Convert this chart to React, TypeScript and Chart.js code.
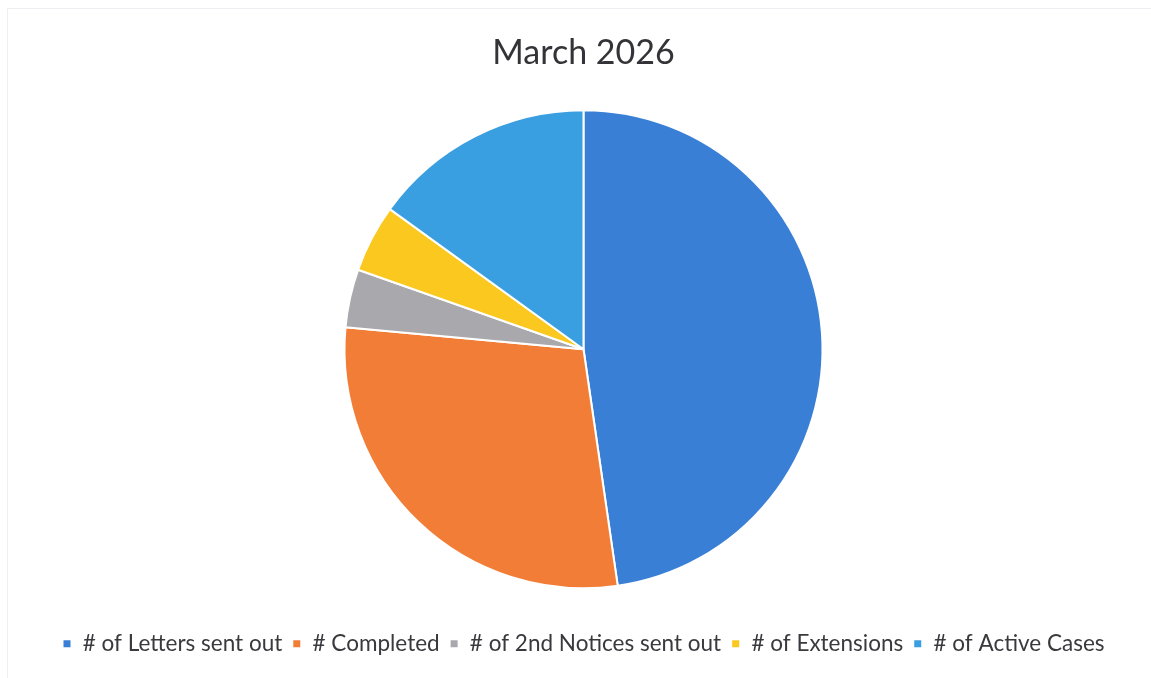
import React, { useEffect, useRef } from "react";
import { Chart, registerables } from "chart.js";

Chart.register(...registerables);

const categories = [
  "# of Letters sent out",
  "# Completed",
  "# of 2nd Notices sent out",
  "# of Extensions",
  "# of Active Cases",
];
const values = [73, 44, 6, 7, 23];
const colors = ["#3a7fd6", "#f27d36", "#a9a9ad", "#fac81e", "#3a9fe0"];
const titleText = "March 2026";

export default function App() {
  const ref = useRef<HTMLCanvasElement | null>(null);

  useEffect(() => {
    if (!ref.current) return;
    const chart = new Chart(ref.current, {
      type: "pie",
      data: {
        labels: categories,
        datasets: [
          {
            data: values,
            backgroundColor: colors,
            borderColor: "#ffffff",
            borderWidth: 2,
            radius: 239,
          },
        ],
      },
      options: {
        animation: false,
        responsive: false,
        maintainAspectRatio: false,
        layout: { padding: { left: 16, right: 0, top: 0, bottom: 13 } },
        plugins: {
          title: {
            display: true,
            text: titleText,
            color: "#333338",
            font: { family: "Lato", size: 34, weight: "normal" },
            padding: { top: 32.6, bottom: 2.6 },
          },
          legend: {
            position: "bottom",
            labels: {
              color: "#3a3a3e",
              font: { family: "Lato", size: 22.5 },
              boxWidth: 9,
              boxHeight: 9,
              padding: 10,
            },
          },
          tooltip: { enabled: false },
        },
      },
    });
    return () => chart.destroy();
  }, []);

  return (
    <div style={{ position: "absolute", left: 0, top: 0, width: 1151, height: 678, background: "#fff" }}>
      <div
        style={{
          position: "absolute",
          left: 7,
          top: 8,
          width: 1160,
          height: 700,
          borderTop: "1px solid #eceef2",
          borderLeft: "1px solid #eceef2",
        }}
      />
      <canvas ref={ref} width={1151} height={678} style={{ position: "absolute", left: 0, top: 0 }} />
    </div>
  );
}
